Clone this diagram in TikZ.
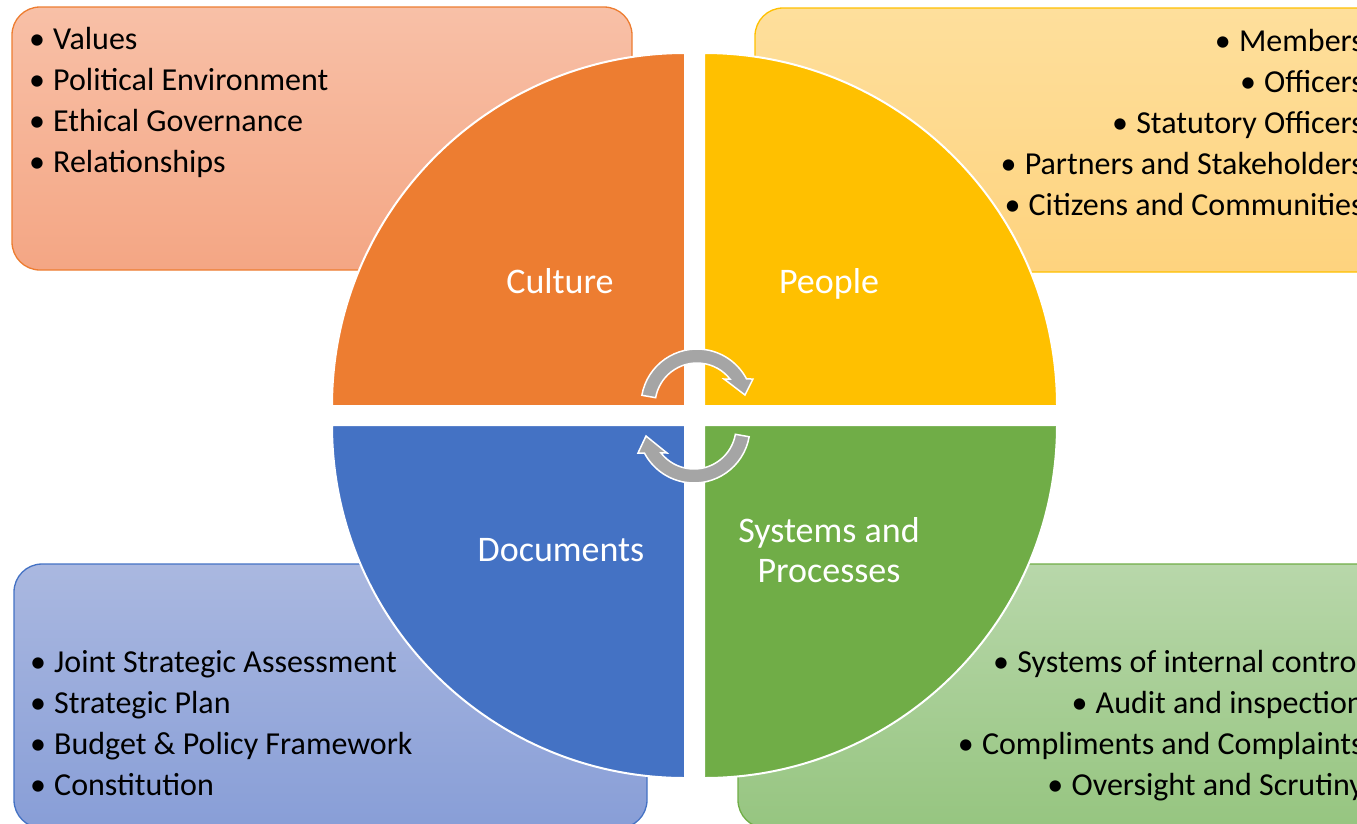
\documentclass[tikz,border=0pt]{standalone}
\usepackage{fontspec}
\setmainfont{Carlito}
\usetikzlibrary{calc}
\definecolor{cOrange}{HTML}{ED7D31}
\definecolor{cYellow}{HTML}{FFC000}
\definecolor{cBlue}{HTML}{4472C4}
\definecolor{cGreen}{HTML}{70AD47}
\definecolor{cGray}{HTML}{A5A5A5}
\definecolor{oTop}{RGB}{248,192,167}
\definecolor{oBot}{RGB}{244,166,132}
\definecolor{yTop}{RGB}{254,223,156}
\definecolor{yBot}{RGB}{254,211,126}
\definecolor{bTop}{RGB}{170,184,224}
\definecolor{bBot}{RGB}{136,158,215}
\definecolor{gTop}{RGB}{184,215,170}
\definecolor{gBot}{RGB}{150,197,128}
\begin{document}
\begin{tikzpicture}[x=1pt,y=-1pt,
  box/.style={rounded corners=28pt, line width=1.3pt},
  quad/.style={draw=white, line width=2pt},
  bul/.style={font=\fontsize{32}{41}\selectfont, inner sep=0pt, anchor=base},
  itemL/.style={bul, anchor=base west},
  itemR/.style={bul, anchor=base east},
  lab/.style={font=\fontsize{36}{40}\selectfont, text=white, inner sep=0pt, anchor=base},
  cyc/.style={fill=cGray, draw=white, line width=1.5pt, line join=miter}]
\useasboundingbox (0,0) rectangle (1357,823);
\clip (0,0) rectangle (1357,823);
% corner boxes
\path[box, draw=cOrange, top color=oTop, bottom color=oBot] (12,7) rectangle (632,270);
\path[box, draw=cYellow, top color=yTop, bottom color=yBot] (755,8) rectangle (1385,272);
\path[box, draw=cBlue, top color=bTop, bottom color=bBot] (14,564) rectangle (647,828);
\path[box, draw=cGreen, top color=gTop, bottom color=gBot] (738,564) rectangle (1385,828);
% quadrants
\path[quad, fill=cOrange] (685,406) -- (332,406) arc[start angle=180, end angle=90, radius=353pt] -- cycle;
\path[quad, fill=cYellow] (704,406) -- (704,53) arc[start angle=90, end angle=0, radius=353pt] -- cycle;
\path[quad, fill=cBlue] (685,425) -- (332,425) arc[start angle=180, end angle=270, radius=353pt] -- cycle;
\path[quad, fill=cGreen] (704,425) -- (1057,425) arc[start angle=0, end angle=-90, radius=353pt] -- cycle;
% circular arrows
\coordinate (ac) at (697,405);
\coordinate (ac2) at (694,427);
\path[cyc] ($(ac)+(170:56pt)$) arc[start angle=170, end angle=27.7, radius=56pt]
  -- (753,379) -- (745,395) -- (724,379) -- ($(ac)+(38:42pt)$)
  arc[start angle=38, end angle=170, radius=42pt] -- cycle;
\path[cyc] ($(ac2)+(-10:56pt)$) arc[start angle=-10, end angle=-152.3, radius=56pt]
  -- (638,453) -- (646,436) -- (667,453) -- ($(ac2)+(218:42pt)$)
  arc[start angle=218, end angle=350, radius=42pt] -- cycle;
% quadrant labels
\node[lab] (culture) at (560,293) {Culture};
\node[lab] (people) at (829,293) {People};
\node[lab] (documents) at (561,561) {Documents};
\node[lab] (systems) at (829,542) {Systems and};
\node[lab] (processes) at (829,582) {Processes};
% top-left list
\foreach \t [count=\i] in {Values, Political Environment, Ethical Governance, Relationships} {
  \node[itemL] (tl\i) at (53,{49+41*(\i-1)}) {\t};
  \node[bul] (tlb\i) at ($(tl\i.base west)+(-16,0)$) {\textbullet};
}
% top-right list
\foreach \t [count=\i] in {Members, Officers, Statutory Officers, Partners and Stakeholders, Citizens and Communities} {
  \node[itemR] (tr\i) at (1364,{51+41*(\i-1)}) {\t};
  \node[bul] (trb\i) at ($(tr\i.base west)+(-16,0)$) {\textbullet};
}
% bottom-left list
\foreach \t [count=\i] in {Joint Strategic Assessment, Strategic Plan, Budget \& Policy Framework, Constitution} {
  \node[itemL] (bl\i) at (54,{672+41*(\i-1)}) {\t};
  \node[bul] (blb\i) at ($(bl\i.base west)+(-16,0)$) {\textbullet};
}
% bottom-right list
\foreach \t [count=\i] in {Systems of internal control, Audit and inspection, Compliments and Complaints, Oversight and Scrutiny} {
  \node[itemR] (br\i) at (1364,{672+41*(\i-1)}) {\t};
  \node[bul] (brb\i) at ($(br\i.base west)+(-16,0)$) {\textbullet};
}
\end{tikzpicture}
\end{document}
